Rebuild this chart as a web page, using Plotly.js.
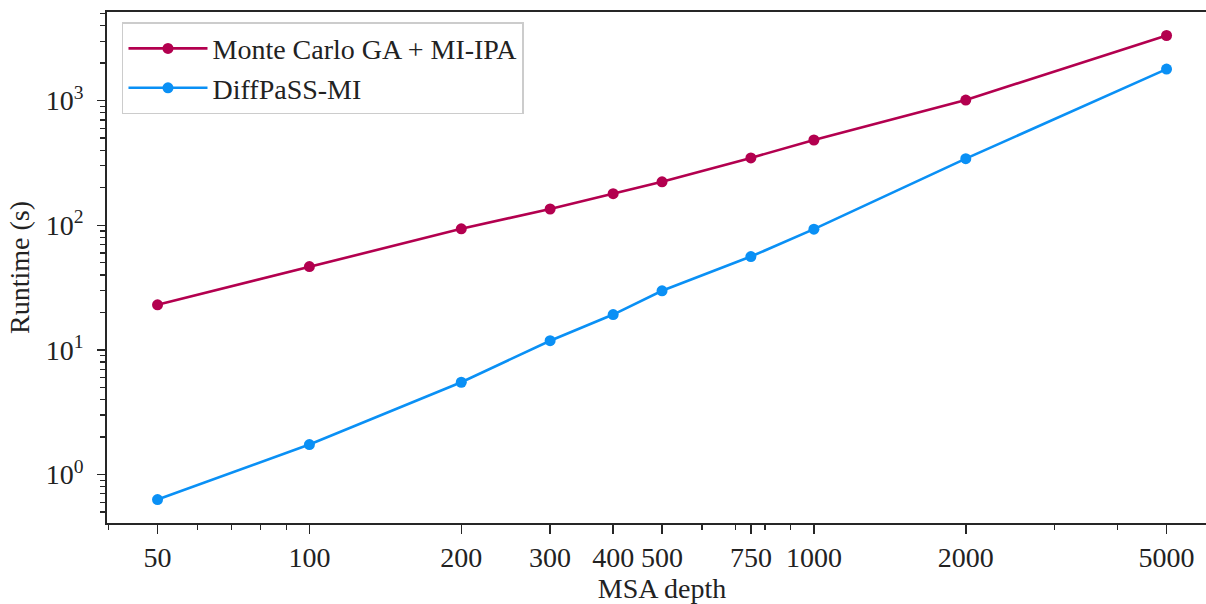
<!DOCTYPE html>
<html>
<head>
<meta charset="utf-8">
<script src="https://cdn.plot.ly/plotly-3.0.1.min.js"></script>
<style>
html, body { margin: 0; padding: 0; overflow: hidden; background: #fff; }
#chart { width: 1218px; height: 604px; }
</style>
</head>
<body>
<div id="chart"></div>
<script>
// MSA depth values
const msaDepth = [50, 100, 200, 300, 400, 500, 750, 1000, 2000, 5000];
// Runtime (s)
const runtimeMonteCarlo = [23.0, 46.6, 93.6, 135, 179, 223, 347, 483, 1011, 3330];
const runtimeDiffPaSS = [0.63, 1.74, 5.5, 11.85, 19.2, 29.8, 56.1, 93.0, 342, 1790];
const seriesNames = ["Monte Carlo GA + MI-IPA", "DiffPaSS-MI"];

const xTickVals = [50, 100, 200, 300, 400, 500, 750, 1000, 2000, 5000];
const xTickText = ["50", "100", "200", "300", "400", "500", "750", "1000", "2000", "5000"];
const xMinorVals = [40, 60, 70, 80, 90, 600, 700, 800, 900, 3000, 4000, 6000];
const yTickVals = [1, 10, 100, 1000];
const yTickText = ["10<sup>0</sup>", "10<sup>1</sup>", "10<sup>2</sup>", "10<sup>3</sup>"];
const yMinorVals = [0.5, 0.6, 0.7, 0.8, 0.9, 2, 3, 4, 5, 6, 7, 8, 9,
  20, 30, 40, 50, 60, 70, 80, 90, 200, 300, 400, 500, 600, 700, 800, 900,
  2000, 3000, 4000, 5000];

const colRed = "#b3004f";
const colBlue = "#0a90f5";
const font = "'Liberation Serif', 'Times New Roman', serif";
const txt = "#222222";
const axCol = "#262626";
const fs = 28;

const traces = [
  {
    x: msaDepth, y: runtimeMonteCarlo, name: seriesNames[0],
    type: "scatter", mode: "lines+markers",
    line: {color: colRed, width: 2.6},
    marker: {color: colRed, size: 11}
  },
  {
    x: msaDepth, y: runtimeDiffPaSS, name: seriesNames[1],
    type: "scatter", mode: "lines+markers",
    line: {color: colBlue, width: 2.6},
    marker: {color: colBlue, size: 11}
  }
];

const layout = {
  width: 1218, height: 604,
  margin: {l: 107, r: 1, t: 12, b: 81, pad: 0},
  paper_bgcolor: "#ffffff", plot_bgcolor: "#ffffff",
  font: {family: font, size: fs, color: txt},
  showlegend: true,
  legend: {
    x: 0.0135, y: 0.98, xanchor: "left", yanchor: "top",
    bgcolor: "#ffffff", bordercolor: "#cccccc", borderwidth: 1.5,
    itemwidth: 79,
    font: {family: font, size: fs, color: txt}
  },
  xaxis: {
    type: "log",
    range: [Math.log10(39.7), Math.log10(6295)],
    tickmode: "array", tickvals: xTickVals, ticktext: xTickText,
    ticks: "outside", ticklen: 9, tickwidth: 1.5, tickcolor: axCol,
    minor: {tickmode: "array", tickvals: xMinorVals, ticks: "outside", ticklen: 5.5, tickwidth: 1.3, tickcolor: axCol, showgrid: false},
    showline: true, linecolor: axCol, linewidth: 1.8, mirror: true,
    showgrid: false, zeroline: false,
    tickfont: {family: font, size: fs, color: txt},
    title: {text: "MSA depth", font: {family: font, size: fs, color: txt}, standoff: 7},
    automargin: false
  },
  yaxis: {
    type: "log",
    range: [-0.389, 3.711],
    tickmode: "array", tickvals: yTickVals, ticktext: yTickText,
    ticks: "outside", ticklen: 8, tickwidth: 1.5, tickcolor: axCol,
    minor: {tickmode: "array", tickvals: yMinorVals, ticks: "outside", ticklen: 5, tickwidth: 1.3, tickcolor: axCol, showgrid: false},
    showline: true, linecolor: axCol, linewidth: 1.8, mirror: true,
    showgrid: false, zeroline: false,
    tickfont: {family: font, size: fs, color: txt},
    ticklabelstandoff: 8,
    title: {text: "Runtime (s)", font: {family: font, size: fs, color: txt}, standoff: 8},
    automargin: false
  }
};

Plotly.newPlot("chart", traces, layout, {displayModeBar: false, staticPlot: true});
</script>
</body>
</html>
